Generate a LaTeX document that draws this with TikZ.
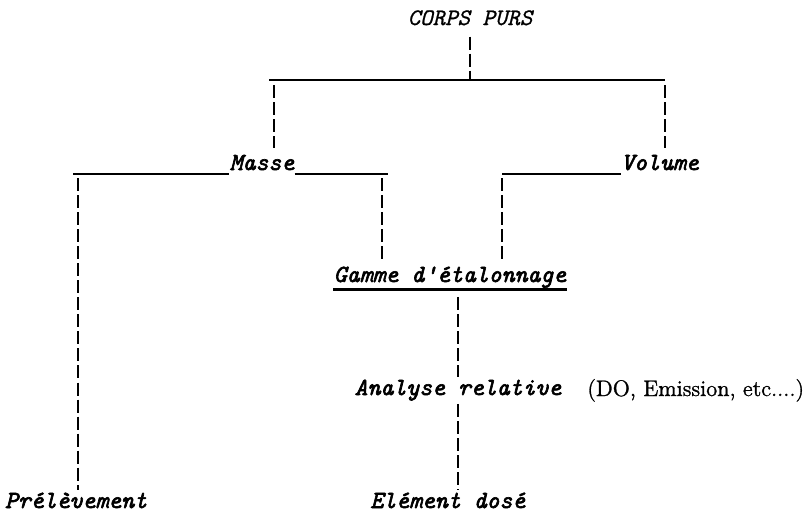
\documentclass[tikz,border=0pt]{standalone}
\usepackage{fontspec}
\newfontfamily\typebold{Latin Modern Mono}[FakeBold=2.6]
\newfontfamily\typelight{Latin Modern Mono}[FakeBold=0.8]
\newfontfamily\noteface{Latin Modern Roman}[FakeBold=1.2]
\usetikzlibrary{positioning,calc}
\tikzset{
  typetext/.style={font=\fontsize{14}{16}\selectfont\typebold\itshape,inner sep=0pt,anchor=base},
  titletext/.style={typetext,font=\fontsize{13.5}{16}\selectfont\typelight\itshape},
  notetext/.style={font=\fontsize{12.8}{15}\selectfont\noteface,inner sep=0pt,anchor=base west},
  hbar/.style={line width=1.2pt},
  vdash/.style={line width=1.3pt,dash pattern=on 7.4pt off 2.3pt}
}

\begin{document}
\begin{tikzpicture}[x=0.02cm,y=-0.02cm]
  \useasboundingbox (0,0) rectangle (806,522);

  \node[titletext] (corps) at (470,25) {CORPS PURS};
  \node[typetext] (masse) at (262,170) {Masse};
  \node[typetext] (volume) at (660,170) {Volume};
  \node[typetext] (gamme) at (450,282) {Gamme d'étalonnage};
  \node[typetext] (analyse) at (458,395) {Analyse relative};
  \node[notetext] (note) at (587,396) {(DO, Emission, etc....)};
  \node[typetext] (prelev) at (76,508) {Prélèvement};
  \node[typetext,anchor=base west] (dose) at (370,508) {Elément dosé};

  \coordinate (topbar) at (470,80);
  \coordinate (barL) at (269,80);
  \coordinate (barR) at (665,80);
  \coordinate (dropM) at (274,80);
  \coordinate (masseL) at (73,174);
  \coordinate (masseR) at (388,174);
  \coordinate (dropP) at (78,174);
  \coordinate (dropG) at (382,174);
  \coordinate (volL) at (502,174);

  \draw[vdash,shorten <=0.22cm] (corps.south) -- (topbar);
  \draw[hbar] (barL) -- (barR);
  \draw[vdash,shorten <=0.1cm,shorten >=0.14cm] (dropM) -- (dropM |- masse.north);
  \draw[vdash,shorten <=0.1cm,shorten >=0.14cm] (barR) -- (barR |- volume.north);

  \draw[hbar] (masseL) -- (masseL -| masse.west);
  \draw[hbar] (masse.east |- masseR) -- (masseR);
  \draw[hbar] (volL) -- (volL -| volume.west);

  \draw[vdash,shorten <=0.08cm,shorten >=0.04cm] (dropP) -- (dropP |- prelev.north);
  \draw[vdash,shorten <=0.08cm,shorten >=0.12cm] (dropG) -- (dropG |- gamme.north);
  \draw[vdash,shorten <=0.08cm,shorten >=0.12cm] (volL) -- (volL |- gamme.north);

  \draw[hbar] ([yshift=-0.03cm]gamme.south west) -- ([yshift=-0.03cm]gamme.south east);
  \draw[vdash,shorten <=0.18cm,shorten >=0.04cm] (analyse.north |- gamme.south) -- (analyse.north);
  \draw[vdash,shorten <=0.06cm,shorten >=0.04cm] (analyse.south) -- (analyse.south |- dose.north);
\end{tikzpicture}
\end{document}
